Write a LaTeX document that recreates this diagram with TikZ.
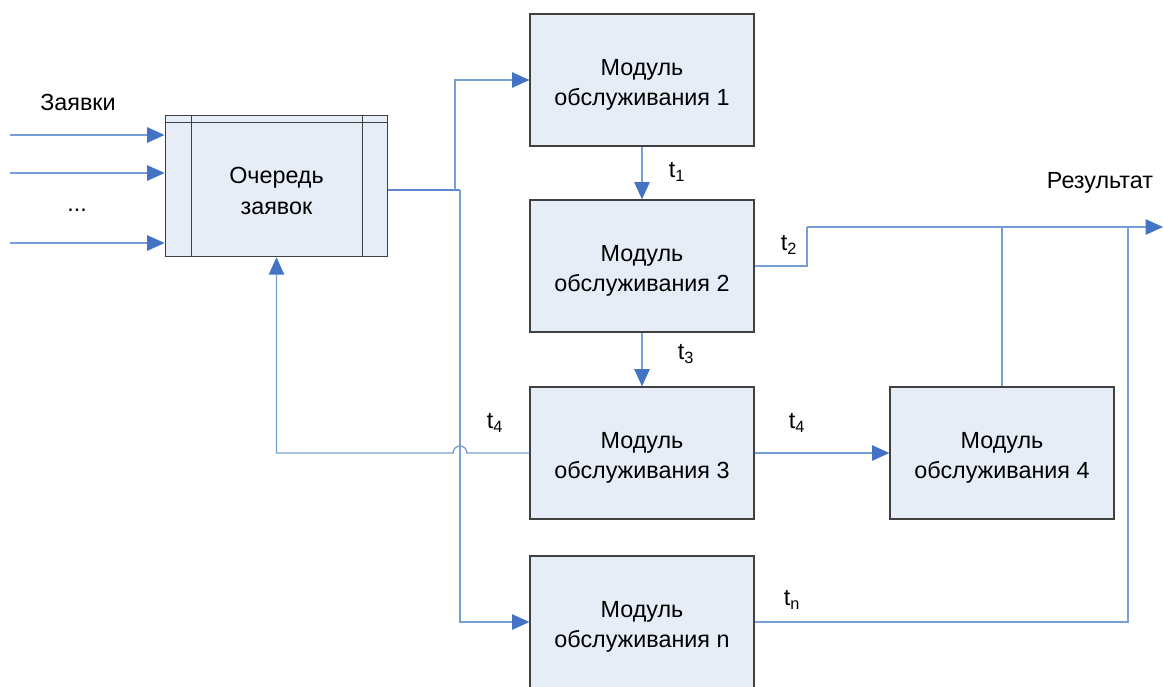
\documentclass[tikz,border=0pt]{standalone}
\usepackage{fontspec}
\setmainfont{Liberation Sans}
\usetikzlibrary{arrows.meta}
\definecolor{boxfill}{RGB}{230,237,247}
\definecolor{boxline}{RGB}{64,64,64}
\definecolor{flowline}{RGB}{120,158,214}
\definecolor{tipblue}{RGB}{68,114,196}
\begin{document}
\begin{tikzpicture}[
    x=0.75pt, y=-0.75pt,
    font=\fontsize{17.5}{23}\selectfont,
    module/.style={rectangle, draw=boxline, fill=boxfill, line width=0.9pt, minimum width=168pt, minimum height=99pt, align=center, inner sep=0pt, text height=42.5pt},
    queuebox/.style={module, minimum width=167pt, minimum height=106pt},
    flow/.style={draw=flowline, line width=1pt},
    flowarrow/.style={flow, -{Triangle[length=13pt, width=11.5pt, color=tipblue]}}
]
\useasboundingbox (0,0) rectangle (1163,686);

% boxes
\node[queuebox] (q) at (276.5,186) {Очередь\\заявок};
\draw[boxline, line width=0.9pt] ([xshift=20.25pt]q.north west) -- ([xshift=20.25pt]q.south west);
\draw[boxline, line width=0.9pt] ([xshift=-19.5pt]q.north east) -- ([xshift=-19.5pt]q.south east);
\draw[boxline, line width=0.9pt] ([yshift=-6pt]q.north west) -- ([yshift=-6pt]q.north east);

\node[module] (m1) at (642,80) {Модуль\\обслуживания 1};
\node[module] (m2) at (642,266) {Модуль\\обслуживания 2};
\node[module] (m3) at (642,453) {Модуль\\обслуживания 3};
\node[module] (m4) at (1002,453) {Модуль\\обслуживания 4};
\node[module] (mn) at (642,622) {Модуль\\обслуживания n};

% inputs
\node (inlabel) at (78,102) {Заявки};
\node (dots) at (77,210) {...};
\foreach \y/\n in {135/a, 173/b, 243/c} {
    \coordinate (in\n) at (10,\y);
    \draw[flowarrow] (in\n) -- (in\n -| q.west);
}

% queue output
\coordinate (qout) at (388,190);
\coordinate (br) at (455,190);
\coordinate (jn) at (460,190);
\draw[flow, draw=tipblue!85] (qout) -- (jn);
\draw[flowarrow] (br) |- (m1.west);
\draw[flowarrow] (jn) |- (mn.west);

% chain
\draw[flowarrow] (m1.south) -- (m2.north);
\draw[flowarrow] (m2.south) -- (m3.north);
\draw[flowarrow] (m3.east) -- (m4.west);

% feedback with hop
\draw[flowarrow] (m3.west) -- ([xshift=5.25pt]jn |- m3.west)
    arc[start angle=0, end angle=180, radius=5.25pt]
    -- (q.south |- m3.west) -- (q.south);

% result
\coordinate (st) at (807,227);
\coordinate (col) at (1128,227);
\coordinate (res) at (1163,227);
\draw[flow] (m2.east) -| (st);
\draw[flowarrow] (st) -- (res);
\draw[flow] (m4.north) -- (m4.north |- st);
\draw[flow] (mn.east) -| (col);
\node (reslabel) at (1100,183) {Результат};

% labels
\node (l1) at (677,172) {t\textsubscript{1}};
\node (l2) at (789,245) {t\textsubscript{2}};
\node (l3) at (686,354) {t\textsubscript{3}};
\node (l4a) at (495,423) {t\textsubscript{4}};
\node (l4b) at (797,423) {t\textsubscript{4}};
\node (ln) at (792,600) {t\textsubscript{n}};
\end{tikzpicture}
\end{document}
